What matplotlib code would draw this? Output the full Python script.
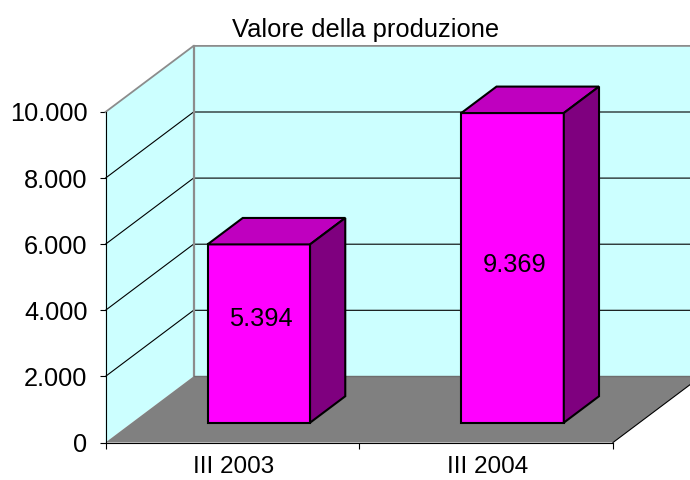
import matplotlib
matplotlib.use("Agg")
import matplotlib.pyplot as plt
from matplotlib.patches import Polygon

plt.rcParams['font.family'] = ['Liberation Sans', 'DejaVu Sans']

# data
categories = ["III 2003", "III 2004"]
values = [5394, 9369]
y_ticks = [0, 2000, 4000, 6000, 8000, 10000]
title = "Valore della produzione"

# fake 3d: one full depth step moves this far in data units
DEPTH_X = 0.347
DEPTH_V = 2000
BAR_WIDTH = 0.404
BAR_D0, BAR_D1 = 0.3, 0.7
WALL = "#CCFFFF"
FLOOR = "#808080"


def fmt(v):
    return f"{v:,}".replace(",", ".")


def pt(x, v, d=0.0):
    return (x + d * DEPTH_X, v + d * DEPTH_V)


fig = plt.figure(figsize=(6.9, 4.8), dpi=100)
ax = fig.add_axes([105.5 / 690, 37.5 / 480, 507.5 / 690, 330.5 / 480])
ax.set_xlim(0, len(categories))
ax.set_ylim(0, y_ticks[-1])
ax.patch.set_visible(False)
for s in ["top", "right"]:
    ax.spines[s].set_visible(False)
for s in ["left", "bottom"]:
    ax.spines[s].set_linewidth(0.8)
    ax.spines[s].set_zorder(8)

n = len(categories)
top = y_ticks[-1]

# walls and floor
ax.add_patch(Polygon([pt(0, 0), pt(0, 0, 1), pt(0, top, 1), pt(0, top)], fc=WALL, ec="none", clip_on=False, zorder=1))
ax.add_patch(Polygon([pt(0, 0, 1), pt(n, 0, 1), pt(n, top, 1), pt(0, top, 1)], fc=WALL, ec="none", clip_on=False, zorder=1))
ax.add_patch(Polygon([pt(0, 0), pt(n, 0), pt(n, 0, 1), pt(0, 0, 1)], fc=FLOOR, ec="none", clip_on=False, zorder=2))

# gridlines
for v in y_ticks[1:-1]:
    a, b, c = pt(0, v), pt(0, v, 1), pt(n, v, 1)
    ax.plot([a[0], b[0], c[0]], [a[1], b[1], c[1]], color="black", lw=0.8, clip_on=False, zorder=3)

# grey wall borders
a, b, c, d = pt(0, top), pt(0, top, 1), pt(n, top, 1), pt(0, 0, 1)
ax.plot([a[0], b[0], c[0]], [a[1], b[1], c[1]], color="#8C8C8C", lw=1.3, clip_on=False, zorder=3)
ax.plot([b[0], d[0]], [b[1], d[1]], color="#8C8C8C", lw=1.6, clip_on=False, zorder=3)
e = pt(n, 0, 1)
ax.plot([d[0], e[0]], [d[1], e[1]], color="#6E6E6E", lw=1.0, clip_on=False, zorder=3)
f = pt(n, 0)
ax.plot([f[0], e[0]], [f[1], e[1]], color="black", lw=0.8, clip_on=False, zorder=3)

# bars
label_heights = [3750, 5370]
for i, v in enumerate(values):
    x0 = i + 0.5 - BAR_WIDTH / 2
    x1 = i + 0.5 + BAR_WIDTH / 2
    sty = dict(ec="black", lw=1.5, joinstyle="miter", clip_on=False, zorder=5)
    ax.add_patch(Polygon([pt(x0, 0, BAR_D0), pt(x1, 0, BAR_D0), pt(x1, v, BAR_D0), pt(x0, v, BAR_D0)], fc="#FF00FF", **sty))
    ax.add_patch(Polygon([pt(x0, v, BAR_D0), pt(x1, v, BAR_D0), pt(x1, v, BAR_D1), pt(x0, v, BAR_D1)], fc="#BF00BF", **sty))
    ax.add_patch(Polygon([pt(x1, 0, BAR_D0), pt(x1, 0, BAR_D1), pt(x1, v, BAR_D1), pt(x1, v, BAR_D0)], fc="#7F007F", **sty))
    lx = pt(i + 0.5, 0, BAR_D0)[0] + 0.01
    ax.text(lx, label_heights[i], fmt(v), ha="center", va="center", fontsize=18.3, color="black", zorder=6)

# axes ticks
ax.set_yticks(y_ticks)
ax.set_yticklabels([fmt(v) for v in y_ticks], fontsize=18.3)
ax.tick_params(axis="y", length=4.5, width=0.8, pad=8.5)
ax.set_xticks(range(n + 1))
ax.set_xticklabels([])
ax.set_xticks([i + 0.5 + 0.006 for i in range(n)], minor=True)
ax.set_xticklabels(categories, minor=True, fontsize=17.5)
ax.tick_params(axis="x", which="major", length=4.5, width=0.8)
ax.tick_params(axis="x", which="minor", length=0, pad=10)

fig.text(366 / 690, 1 - 29.5 / 480, title, ha="center", va="center", fontsize=18.4)

fig.savefig("out.png", dpi=100)
